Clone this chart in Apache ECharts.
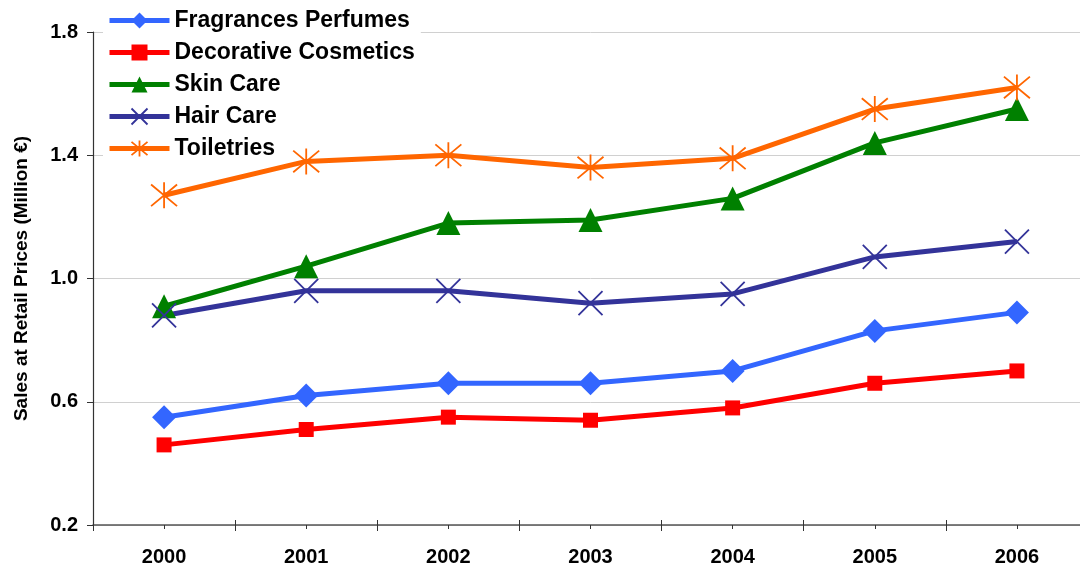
<!DOCTYPE html>
<html>
<head>
<meta charset="utf-8">
<script src="https://cdn.jsdelivr.net/npm/echarts@6/dist/echarts.min.js"></script>
<style>
  html, body { margin: 0; padding: 0; background: #fff; overflow: hidden; }
  #chart { width: 1088px; height: 568px; }
</style>
</head>
<body>
<div id="chart"></div>
<script>
// Sales at retail prices by product group, 2000-2006 (million €)
const years = ['2000', '2001', '2002', '2003', '2004', '2005', '2006'];
const fragrancesPerfumes = [0.55, 0.62, 0.66, 0.66, 0.70, 0.83, 0.89];
const decorativeCosmetics = [0.46, 0.51, 0.55, 0.54, 0.58, 0.66, 0.70];
const skinCare = [0.91, 1.04, 1.18, 1.19, 1.26, 1.44, 1.55];
const hairCare = [0.88, 0.96, 0.96, 0.92, 0.95, 1.07, 1.12];
const toiletries = [1.27, 1.38, 1.40, 1.36, 1.39, 1.55, 1.62];
const yTicks = [0.2, 0.6, 1.0, 1.4, 1.8];

const FONT = '"Liberation Sans", Arial, sans-serif';
const CROSS = 'path://M0,0L10,10M10,0L0,10';
const STAR = 'path://M0,0L10,10M10,0L0,10M5,-1L5,11';

function lineSeries(name, data, color, symbol, size, stroked) {
  return {
    name, type: 'line', data,
    symbol, symbolSize: size,
    showAllSymbol: true,
    lineStyle: { color, width: 5 },
    itemStyle: stroked
      ? { color: 'rgba(0,0,0,0)', borderColor: color, borderWidth: 1.8 }
      : { color, borderWidth: 0 },
    emphasis: { disabled: true },
    z: 3
  };
}

const chart = echarts.init(document.getElementById('chart'), null, { renderer: 'canvas' });
chart.setOption({
  animation: false,
  backgroundColor: '#ffffff',
  textStyle: { fontFamily: FONT },
  grid: { left: 93, top: 32, right: 0, bottom: 43, containLabel: false },
  legend: {
    orient: 'vertical', left: 103, top: 7,
    itemWidth: 60, itemHeight: 20, itemGap: 9,
    padding: [2, 6, 0, 4],
    backgroundColor: '#ffffff',
    lineStyle: { width: 5 },
    textStyle: { fontFamily: FONT, fontWeight: 'bold', fontSize: 23, lineHeight: 22, color: '#000' },
    data: [
      { name: 'Fragrances Perfumes', itemStyle: { color: '#3366FF' } },
      { name: 'Decorative Cosmetics', itemStyle: { color: '#FF0000' } },
      { name: 'Skin Care', itemStyle: { color: '#008000' } },
      { name: 'Hair Care', itemStyle: { color: 'rgba(0,0,0,0)', borderColor: '#333399', borderWidth: 1.8 } },
      { name: 'Toiletries', itemStyle: { color: 'rgba(0,0,0,0)', borderColor: '#FF6600', borderWidth: 1.8 } }
    ],
    z: 1
  },
  xAxis: [
    {
      type: 'category', data: years, boundaryGap: true,
      axisLine: { lineStyle: { color: '#555', width: 1.5 } },
      axisTick: { show: true, length: 6, lineStyle: { color: '#333' } },
      axisLabel: { fontFamily: FONT, fontWeight: 'bold', fontSize: 20, color: '#000', margin: 22 },
      splitLine: { show: false }
    },
    {
      type: 'category', data: years, boundaryGap: true, position: 'bottom',
      axisLine: { show: false },
      axisTick: { show: true, inside: true, length: 5, lineStyle: { color: '#333' } },
      axisLabel: { show: false }
    },
    {
      type: 'category', data: years, boundaryGap: true, position: 'bottom',
      axisLine: { show: false },
      axisTick: { show: true, alignWithLabel: true, length: 4, lineStyle: { color: '#333' } },
      axisLabel: { show: false }
    }
  ],
  yAxis: {
    type: 'value', min: yTicks[0], max: yTicks[yTicks.length - 1], interval: 0.4,
    name: 'Sales at Retail Prices (Million €)',
    nameLocation: 'middle', nameGap: 62, nameRotate: 90,
    nameTextStyle: { fontFamily: FONT, fontWeight: 'bold', fontSize: 19, color: '#000' },
    axisLine: { show: true, lineStyle: { color: '#333', width: 1.2 } },
    axisTick: { show: true, length: 6, lineStyle: { color: '#333' } },
    axisLabel: {
      fontFamily: FONT, fontWeight: 'bold', fontSize: 20, color: '#000', margin: 15,
      formatter: v => Number(v).toFixed(1)
    },
    splitLine: { show: true, lineStyle: { color: '#d0d0d0', width: 1 } }
  },
  series: [
    lineSeries('Fragrances Perfumes', fragrancesPerfumes, '#3366FF', 'diamond', 24, false),
    lineSeries('Decorative Cosmetics', decorativeCosmetics, '#FF0000', 'rect', 15, false),
    lineSeries('Skin Care', skinCare, '#008000', 'triangle', 24, false),
    lineSeries('Hair Care', hairCare, '#333399', CROSS, 24, true),
    lineSeries('Toiletries', toiletries, '#FF6600', STAR, 26, true)
  ]
});
</script>
</body>
</html>
